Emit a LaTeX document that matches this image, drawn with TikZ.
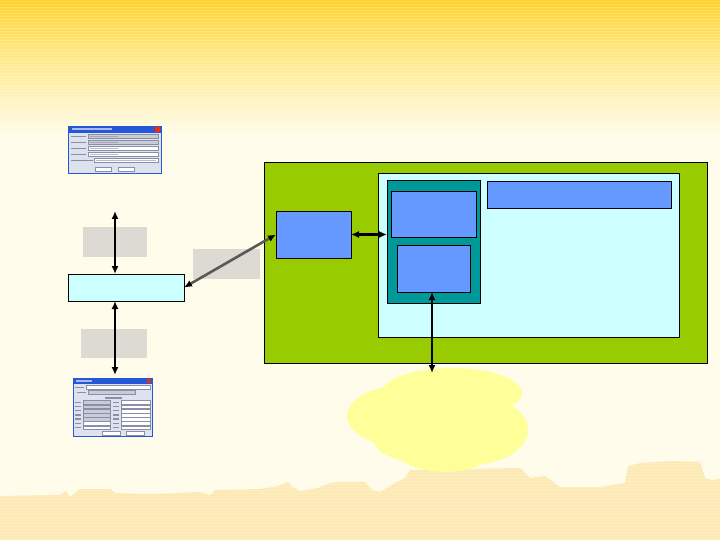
\documentclass[tikz,border=0pt]{standalone}
\usetikzlibrary{arrows.meta,calc}
\definecolor{bgcream}{HTML}{FFFCEA}
\definecolor{bgtop}{HTML}{FFD22A}
\definecolor{bgmid}{HTML}{FFE887}
\definecolor{skyl}{HTML}{FCE9B4}
\definecolor{grn}{HTML}{99CC00}
\definecolor{blu}{HTML}{6699FF}
\definecolor{lcy}{HTML}{CCFFFF}
\definecolor{tea}{HTML}{009999}
\definecolor{gbox}{HTML}{DCDAD2}
\definecolor{cloudy}{HTML}{FFFF99}
\definecolor{xpblue}{HTML}{2458D8}
\definecolor{xpbody}{HTML}{DDE2EE}
\definecolor{xpgray}{HTML}{C9CCD6}
\definecolor{xptxt}{HTML}{8A8FA8}
\tikzset{
  blk/.style={draw=black, line width=0.8pt, inner sep=0pt, outer sep=0pt, anchor=north west},
  gry/.style={fill=gbox, draw=none, inner sep=0pt, outer sep=0pt, anchor=north west},
  win/.style={draw=xpblue, line width=0.8pt, fill=xpbody, inner sep=0pt, outer sep=0pt, anchor=north west},
  dbl/.style={line width=2.6pt, {Latex[length=8pt,width=7pt]}-{Latex[length=8pt,width=7pt]}},
  fieldw/.style={fill=white, draw=xptxt, line width=0.3pt},
  fieldg/.style={fill=xpgray, draw=xptxt, line width=0.3pt},
  txtbar/.style={fill=xptxt},
}
\begin{document}
\begin{tikzpicture}[x=1pt,y=-1pt]
\useasboundingbox (0,0) rectangle (720,540);
% background
\fill[bgcream] (0,0) rectangle (720,540);
\shade[top color=bgtop, bottom color=bgmid] (0,0) rectangle (720,55);
\shade[top color=bgmid, bottom color=bgcream] (0,55) rectangle (720,135);
% skyline
\fill[skyl] (0,540) -- (0,496) -- (60,495) -- (66,491) -- (70,497) -- (80,489) -- (110,489) -- (115,493)
  -- (150,494) -- (200,492) -- (210,495) -- (215,490) -- (260,489) -- (278,486) -- (288,482) -- (292,487)
  -- (300,491) -- (318,488) -- (330,483) -- (340,482) -- (365,482) -- (372,490) -- (380,492) -- (395,483)
  -- (405,478) -- (410,470) -- (520,468) -- (530,478) -- (545,476) -- (560,487) -- (600,487) -- (625,483)
  -- (628,466) -- (640,463) -- (672,461) -- (700,462) -- (705,478) -- (712,480) -- (720,479) -- (720,540) -- cycle;
% stripes
\foreach \yy in {1.5,4.5,...,540} \draw[white, opacity=0.22, line width=0.7pt] (0,\yy) -- (720,\yy);
% cloud
\begin{scope}[fill=cloudy]
\fill (452,393) ellipse [x radius=70pt, y radius=25pt];
\fill (400,416) ellipse [x radius=53pt, y radius=30pt];
\fill (470,430) ellipse [x radius=58pt, y radius=35pt];
\fill (445,448) ellipse [x radius=50pt, y radius=24pt];
\fill (418,438) ellipse [x radius=45pt, y radius=24pt];
\end{scope}
\coordinate (cl) at (432,373);

% dialog 1
\node[win, minimum width=93pt, minimum height=47pt] (d1) at (68,126) {};
\fill[xpblue] (68,126) rectangle (161,133);
\fill[white, opacity=.6] (72,128.5) rectangle (112,130.5);
\fill[red!70!orange] (155,127.3) rectangle (160,132);
\foreach \r/\st in {134.5/fieldg,140.5/fieldg,146.5/fieldw,152.5/fieldw} {
  \fill[txtbar] (71,\r+1.2) rectangle (86,\r+2.8);
  \draw[\st] (88,\r) rectangle (158,\r+4);
  \fill[txtbar, opacity=.6] (90,\r+1.3) rectangle (118,\r+2.7);
}
\fill[txtbar] (71,159.7) rectangle (93,161.3);
\draw[fieldw] (94,158.5) rectangle (158,162.5);
\fill[txtbar, opacity=.6] (96,159.8) rectangle (156,161.2);
\draw[fieldw] (95,167) rectangle (111,171.5);
\draw[fieldw] (118,167) rectangle (134,171.5);

% dialog 2
\node[win, minimum width=79pt, minimum height=58pt] (d2) at (73,378) {};
\fill[xpblue] (73,378) rectangle (152,384);
\fill[white, opacity=.6] (76,380) rectangle (92,382);
\fill[red!70!orange] (147,379) rectangle (151,383);
\fill[txtbar] (75,386.5) rectangle (84,388);
\draw[fieldw] (86,385.5) rectangle (150,389.5);
\fill[txtbar] (77,391.5) rectangle (86,393);
\draw[fieldg] (88,390.5) rectangle (135,394.5);
\fill[txtbar] (105,397) rectangle (122,398.5);
\foreach \i in {0,...,6} {
  \pgfmathsetmacro{\r}{400.5+4.2*\i}
  \fill[txtbar] (75,\r+1) rectangle (81,\r+2.4);
  \fill[txtbar] (113,\r+1) rectangle (119,\r+2.4);
}
\foreach \i in {0,...,4} {
  \pgfmathsetmacro{\r}{400.5+4.2*\i}
  \draw[fieldg] (83,\r) rectangle (110,\r+3.8);
  \draw[fieldw] (121,\r) rectangle (150,\r+3.8);
}
\foreach \i in {5,6} {
  \pgfmathsetmacro{\r}{400.5+4.2*\i}
  \draw[fieldw] (83,\r) rectangle (110,\r+3.8);
  \draw[fieldw] (121,\r) rectangle (150,\r+3.8);
}
\draw[fieldw] (102,431) rectangle (120,435);
\draw[fieldw] (126,431) rectangle (144,435);

% gray label boxes
\node[gry, minimum width=64pt, minimum height=30pt] (g1) at (83,227) {};
\node[gry, minimum width=67pt, minimum height=30pt] (g2) at (193,249) {};
\node[gry, minimum width=66pt, minimum height=29pt] (g3) at (81,329) {};

% left light cyan box
\node[blk, fill=lcy, minimum width=116pt, minimum height=27pt] (cy) at (68,274) {};

% green system
\node[blk, fill=grn, minimum width=443pt, minimum height=201pt] (G) at (264,162) {};
\node[blk, fill=blu, minimum width=75pt, minimum height=47pt] (A) at (276,211) {};
\node[blk, fill=lcy, minimum width=301pt, minimum height=164pt] (P) at (378,173) {};
\node[blk, fill=tea, minimum width=93pt, minimum height=123pt] (T) at (387,180) {};
\node[blk, fill=blu, minimum width=85pt, minimum height=46pt] (B) at (391,191) {};
\node[blk, fill=blu, minimum width=73pt, minimum height=47pt] (C) at (397,245) {};
\node[blk, fill=blu, minimum width=184pt, minimum height=27pt] (D) at (487,181) {};

% connectors
\coordinate (t1) at (115,211);
\coordinate (b1) at (115,375);
\draw[dbl] (t1) -- (t1 |- cy.north);
\draw[dbl] (b1 |- cy.south) -- (b1);
\draw[line width=2.6pt, draw=black!65, {Latex[length=8pt,width=7pt,black]}-{Latex[length=8pt,width=7pt,black]}] (cy.east) -- (A.west);
\draw[dbl] (A.east) -- (T.west |- A.east);
\draw[dbl] (C.south -| cl) -- (cl);
\end{tikzpicture}
\end{document}
